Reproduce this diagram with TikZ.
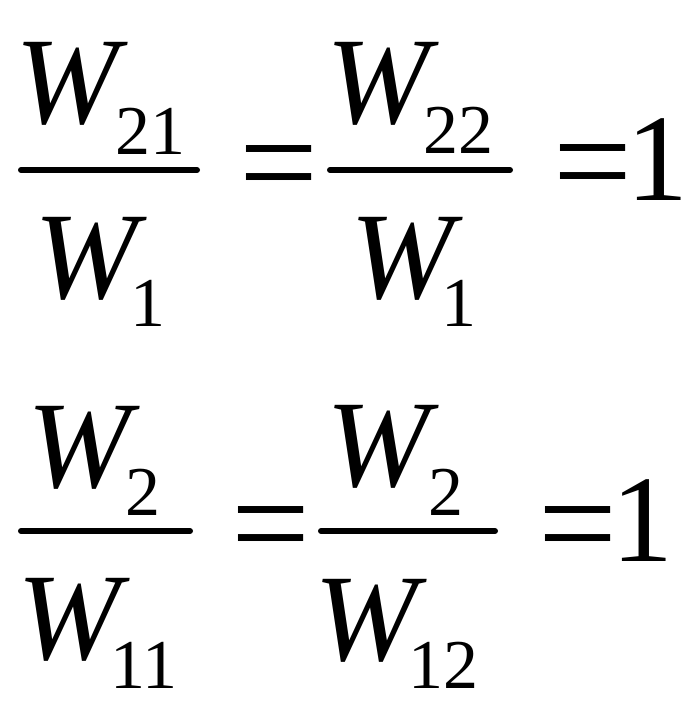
\documentclass[tikz,border=0pt]{standalone}
\usepackage{fontspec}
\setmainfont{Liberation Serif}
\tikzset{
  big/.style={inner sep=0pt, outer sep=0pt, anchor=base, font=\fontsize{124}{124}\selectfont},
  bigit/.style={big, font=\fontsize{124}{124}\selectfont\itshape},
  eqsign/.style={big, font=\fontsize{140}{140}\selectfont},
  sub/.style={inner sep=0pt, outer sep=0pt, anchor=base, font=\fontsize{70}{70}\selectfont},
  fracbar/.style={line width=6pt, line cap=round}
}
\begin{document}
\begin{tikzpicture}[x=1pt,y=-1pt]
\useasboundingbox (0,0) rectangle (697,717);
% Row 1, fraction 1
\node[bigit] (a1) at (67,123) {W};
\node[sub] (a1s) at (150,154) {21};
\draw[fracbar] (21,170) -- (197,170);
\node[bigit] (a1d) at (86,298) {W};
\node[sub] (a1ds) at (148,326) {1};
\node[eqsign] (eq1) at (279,209) {=};
% Row 1, fraction 2
\node[bigit] (b1) at (378,123) {W};
\node[sub] (b1s) at (458,153) {22};
\draw[fracbar] (330,170) -- (510,170);
\node[bigit] (b1d) at (402,298) {W};
\node[sub] (b1ds) at (459,326) {1};
\node[eqsign] (eq2) at (593,208) {=};
\node[big] (one1) at (657,200) {1};
% Row 2, fraction 1
\node[bigit] (c1) at (79,487) {W};
\node[sub] (c1s) at (143,515) {2};
\draw[fracbar] (21,531) -- (190,531);
\node[bigit] (c1d) at (69,659) {W};
\node[sub] (c1ds) at (144,688) {11};
\node[eqsign] (eq3) at (271,570) {=};
% Row 2, fraction 2
\node[bigit] (d1) at (378,486) {W};
\node[sub] (d1s) at (446,515) {2};
\draw[fracbar] (321,531) -- (495,531);
\node[bigit] (d1d) at (366,660) {W};
\node[sub] (d1ds) at (443,688) {12};
\node[eqsign] (eq4) at (578,570) {=};
\node[big] (one2) at (642,561) {1};
\end{tikzpicture}
\end{document}
